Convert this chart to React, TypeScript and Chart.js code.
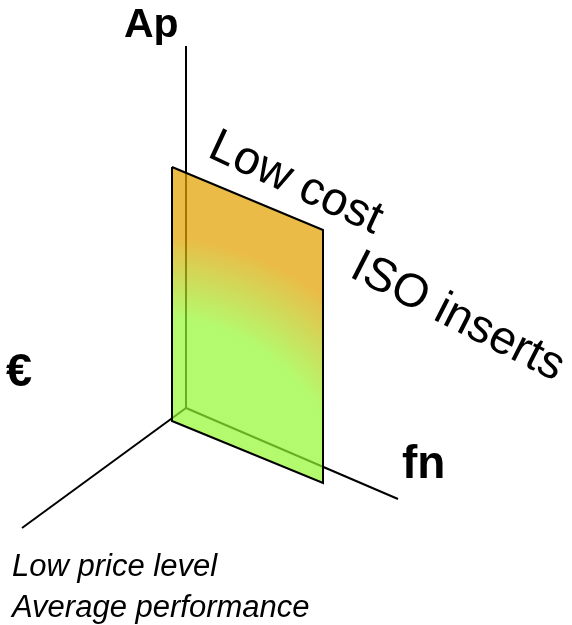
import React, { useEffect, useRef } from "react";
import { Chart, registerables } from "chart.js";

Chart.register(...registerables);

// ---- Diagram data (diagram units: x to the right, y downwards) ----
const axisOrigin = [186, 408];
const apAxisEnd = [186, 46];
const priceAxisEnd = [22, 528];
const fnAxisEnd = [398, 499];

const slabTopEdge = [
  [172, 167],
  [323, 230],
];
const slabBottomEdge = [
  [172, 421],
  [323, 483],
];

const axisLabels = ["Ap", "€", "fn"];
const regionLabels = ["Low cost", "ISO inserts"];
const footerLines = ["Low price level", "Average performance"];

// ---- Styling / placement (kept apart from the data) ----
const W = 572;
const H = 625;
const gradientCenter = [149, 516];
const gradientRadius = 400;
const GREEN = "rgba(148, 248, 48, 0.7)";
const ORANGE = "rgba(226, 162, 0, 0.72)";

const axisLabelPos = [
  { x: 124, y: 37, size: 41 },
  { x: 6, y: 386, size: 47 },
  { x: 402, y: 478, size: 46 },
];
const regionLabelPos = [
  { x: 206, y: 156, angle: 25, size: 47 },
  { x: 348, y: 276, angle: 27, size: 47 },
];
const footerPos = [
  { x: 12, y: 576 },
  { x: 12, y: 617 },
];
const footerSize = 31;

const pts = (arr: number[][]) => arr.map(([x, y]) => ({ x, y }));

const textPlugin = {
  id: "diagramText",
  afterDatasetsDraw(chart: any) {
    const { ctx } = chart;
    const xs = chart.scales.x;
    const ys = chart.scales.y;
    const px = (v: number) => xs.getPixelForValue(v);
    const py = (v: number) => ys.getPixelForValue(v);
    ctx.save();
    ctx.fillStyle = "#000";
    ctx.textBaseline = "alphabetic";
    ctx.textAlign = "left";
    axisLabels.forEach((t, i) => {
      const p = axisLabelPos[i];
      ctx.font = `bold ${p.size}px "Liberation Sans", Arial, sans-serif`;
      ctx.fillText(t, px(p.x), py(p.y));
    });
    regionLabels.forEach((t, i) => {
      const p = regionLabelPos[i];
      ctx.save();
      ctx.translate(px(p.x), py(p.y));
      ctx.rotate((p.angle * Math.PI) / 180);
      ctx.font = `${p.size}px "Liberation Sans", Arial, sans-serif`;
      ctx.fillText(t, 0, 0);
      ctx.restore();
    });
    ctx.font = `italic ${footerSize}px "Liberation Sans", Arial, sans-serif`;
    footerLines.forEach((t, i) => {
      const p = footerPos[i];
      ctx.fillText(t, px(p.x), py(p.y));
    });
    ctx.restore();
  },
};

function slabGradient(context: any) {
  const chart = context.chart;
  if (!chart.chartArea) return GREEN;
  const xs = chart.scales.x;
  const ys = chart.scales.y;
  const cx = xs.getPixelForValue(gradientCenter[0]);
  const cy = ys.getPixelForValue(gradientCenter[1]);
  const g = chart.ctx.createRadialGradient(cx, cy, 0, cx, cy, gradientRadius);
  g.addColorStop(0, GREEN);
  g.addColorStop(0.5, GREEN);
  g.addColorStop(0.7, ORANGE);
  g.addColorStop(1, ORANGE);
  return g;
}

export default function App() {
  const ref = useRef<HTMLCanvasElement>(null);
  useEffect(() => {
    if (!ref.current) return;
    const axisStyle = {
      borderColor: "#000",
      borderWidth: 2,
      pointRadius: 0,
      fill: false,
    };
    const chart = new Chart(ref.current, {
      type: "line",
      data: {
        datasets: [
          {
            label: "slab outline",
            data: pts([
              slabTopEdge[0],
              slabTopEdge[1],
              slabBottomEdge[1],
              slabBottomEdge[0],
              slabTopEdge[0],
            ]),
            borderColor: "#000",
            borderWidth: 2,
            borderJoinStyle: "miter",
            pointRadius: 0,
            fill: false,
          },
          {
            label: "slab top",
            data: pts(slabTopEdge),
            borderWidth: 0,
            borderColor: "rgba(0,0,0,0)",
            pointRadius: 0,
            backgroundColor: slabGradient,
            fill: "+1",
          },
          {
            label: "slab bottom",
            data: pts(slabBottomEdge),
            borderWidth: 0,
            borderColor: "rgba(0,0,0,0)",
            pointRadius: 0,
            fill: false,
          },
          { label: "Ap axis", data: pts([axisOrigin, apAxisEnd]), ...axisStyle },
          { label: "€ axis", data: pts([axisOrigin, priceAxisEnd]), ...axisStyle },
          { label: "fn axis", data: pts([axisOrigin, fnAxisEnd]), ...axisStyle },
        ],
      },
      options: {
        animation: false,
        responsive: false,
        layout: { padding: 0 },
        elements: { line: { tension: 0 } },
        plugins: {
          legend: { display: false },
          tooltip: { enabled: false },
          title: { display: false },
        },
        scales: {
          x: { type: "linear", min: 0, max: W, display: false },
          y: { type: "linear", min: 0, max: H, reverse: true, display: false },
        },
      },
      plugins: [textPlugin],
    } as any);
    return () => chart.destroy();
  }, []);
  return (
    <div style={{ position: "fixed", left: 0, top: 0, width: W, height: H, background: "#fff" }}>
      <canvas ref={ref} width={W} height={H} style={{ display: "block" }} />
    </div>
  );
}
